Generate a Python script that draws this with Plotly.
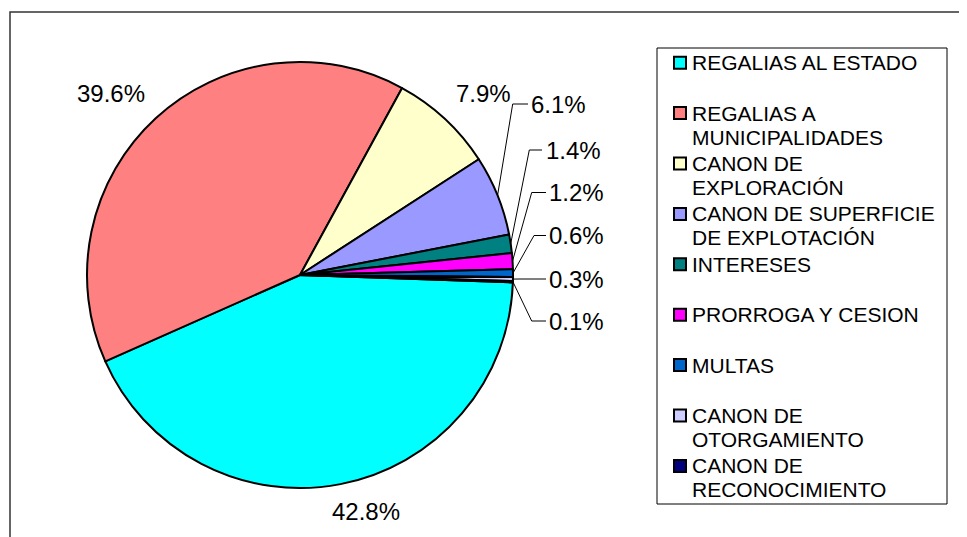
import math
import plotly.graph_objects as go

# ---- data ----
categories = [
    "REGALIAS AL ESTADO",
    "REGALIAS A MUNICIPALIDADES",
    "CANON DE EXPLORACIÓN",
    "CANON DE SUPERFICIE DE EXPLOTACIÓN",
    "INTERESES",
    "PRORROGA Y CESION",
    "MULTAS",
    "CANON DE OTORGAMIENTO",
    "CANON DE RECONOCIMIENTO",
]
legend_lines = [
    ["REGALIAS AL ESTADO"],
    ["REGALIAS A", "MUNICIPALIDADES"],
    ["CANON DE", "EXPLORACIÓN"],
    ["CANON DE SUPERFICIE", "DE EXPLOTACIÓN"],
    ["INTERESES"],
    ["PRORROGA Y CESION"],
    ["MULTAS"],
    ["CANON DE", "OTORGAMIENTO"],
    ["CANON DE", "RECONOCIMIENTO"],
]
shares = [42.8, 39.6, 7.9, 6.1, 1.4, 1.2, 0.6, 0.3, 0.1]

# ---- style ----
colors = ["#00FFFF", "#FF8080", "#FFFFCC", "#9999FF", "#008080",
          "#FF00FF", "#0066CC", "#CCCCFF", "#000080"]
W, H = 967, 537
OFF = 8  # page body margin: the figure is drawn 8px right/down in the window
CX, CY, R = 300, 275, 213
ROTATION = 92
FONT = "Liberation Sans, Arial, sans-serif"

# label placement (window pixels): (x, y, xanchor, elbow_x, line_end_x or None)
label_layout = [
    (366, 511, "center", None, None),
    (111, 94, "center", None, None),
    (483, 93, "center", None, None),
    (529, 104, "left", 512.7, 528),
    (544, 150, "left", 529.3, 542),
    (547, 192.5, "left", 531.7, 546),
    (547, 235.5, "left", 534, 546),
    (547, 279, "left", 520, 546),
    (547, 321, "left", 531.7, 546),
]
LEG_BOX = (657, 48, 947, 504)
LEG_FIRST_Y, LEG_PITCH, LEG_LINE = 62.7, 50.4, 24
LEG_SW_X0, LEG_SW = 674, 12
LEG_TEXT_X = 690


def px(x):
    return (x - OFF) / W


def py(y):
    return 1 - (y - OFF) / H


fig = go.Figure()
fig.add_trace(go.Pie(
    labels=categories,
    values=shares,
    sort=False,
    direction="clockwise",
    rotation=ROTATION,
    marker=dict(colors=colors, line=dict(color="black", width=2)),
    textinfo="none",
    hoverinfo="label+percent",
    showlegend=False,
    domain=dict(x=[px(CX - R), px(CX + R)], y=[py(CY + R), py(CY - R)]),
))

total = sum(shares)
cum = 0.0
annotations = []
shapes = []
for v, (lx, ly, xa, ex, endx) in zip(shares, label_layout):
    mid = math.radians(ROTATION + 360 * (cum + v / 2) / total)
    cum += v
    ax_ = CX + R * math.sin(mid)
    ay_ = CY - R * math.cos(mid)
    annotations.append(dict(
        x=px(lx), y=py(ly), xref="paper", yref="paper",
        text=f"{v:.1f}%", showarrow=False, xanchor=xa, yanchor="middle",
        font=dict(family=FONT, size=24, color="black"),
    ))
    if ex is not None:
        path = f"M{px(ax_)},{py(ay_)} L{px(ex)},{py(ly)} L{px(endx)},{py(ly)}"
        shapes.append(dict(type="path", xref="paper", yref="paper", path=path,
                           line=dict(color="black", width=1)))

# legend box
shapes.append(dict(type="rect", xref="paper", yref="paper",
                   x0=px(LEG_BOX[0]), x1=px(LEG_BOX[2]),
                   y0=py(LEG_BOX[3]), y1=py(LEG_BOX[1]),
                   line=dict(color="black", width=1), fillcolor="white",
                   layer="below"))
for i, (lines, col) in enumerate(zip(legend_lines, colors)):
    yc = LEG_FIRST_Y + LEG_PITCH * i
    shapes.append(dict(type="rect", xref="paper", yref="paper",
                       x0=px(LEG_SW_X0), x1=px(LEG_SW_X0 + LEG_SW),
                       y0=py(yc + LEG_SW / 2), y1=py(yc - LEG_SW / 2),
                       fillcolor=col, line=dict(color="black", width=2)))
    for j, t in enumerate(lines):
        annotations.append(dict(
            x=px(LEG_TEXT_X), y=py(yc + LEG_LINE * j), xref="paper", yref="paper",
            text=t, showarrow=False, xanchor="left", yanchor="middle",
            font=dict(family=FONT, size=21, color="black"),
        ))

# outer chart border (right/bottom edges fall outside the picture)
shapes.append(dict(type="rect", xref="paper", yref="paper",
                   x0=px(10), x1=px(W + 20), y0=py(H + 20), y1=py(12),
                   line=dict(color="#333333", width=1.5), layer="below"))

fig.update_layout(
    width=W, height=H,
    margin=dict(l=0, r=0, t=0, b=0),
    paper_bgcolor="white", plot_bgcolor="white",
    font=dict(family=FONT, color="black"),
    showlegend=False,
    annotations=annotations,
    shapes=shapes,
)

fig.write_html("out.html")
